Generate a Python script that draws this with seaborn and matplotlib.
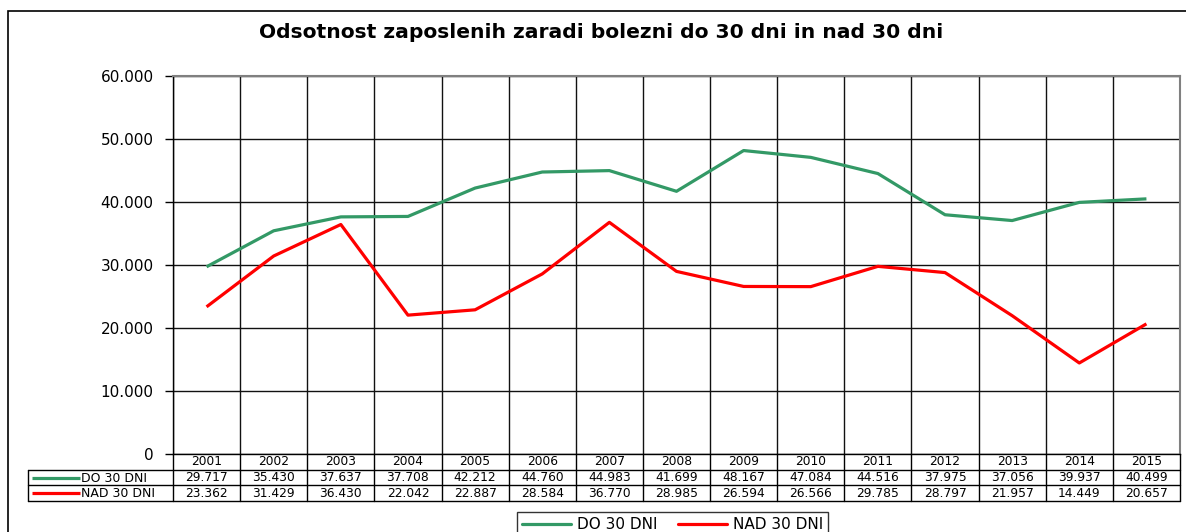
import matplotlib.pyplot as plt
import matplotlib.patches as mpatches
import seaborn as sns
import pandas as pd
import numpy as np

years = ['2001', '2002', '2003', '2004', '2005', '2006', '2007', '2008',
         '2009', '2010', '2011', '2012', '2013', '2014', '2015']
do_30 = [29717, 35430, 37637, 37708, 42212, 44760, 44983, 41699,
         48167, 47084, 44516, 37975, 37056, 39937, 40499]
nad_30 = [23362, 31429, 36430, 22042, 22887, 28584, 36770, 28985,
          26594, 26566, 29785, 28797, 21957, 14449, 20657]
series_names = ['DO 30 DNI', 'NAD 30 DNI']
series_colors = ['#339966', '#ff0000']
title = 'Odsotnost zaposlenih zaradi bolezni do 30 dni in nad 30 dni'

sns.set_theme(style='white')
plt.rcParams['font.family'] = ['DejaVu Sans']
plt.rcParams['text.color'] = 'black'
plt.rcParams['xtick.color'] = 'black'
plt.rcParams['ytick.color'] = 'black'
plt.rcParams['axes.labelcolor'] = 'black'

W, H = 1186, 532
fig = plt.figure(figsize=(W / 100, H / 100), dpi=100)

# long form table for seaborn
df = pd.DataFrame({
    'pos': list(range(len(years))) * 2,
    'value': do_30 + nad_30,
    'series': [series_names[0]] * len(years) + [series_names[1]] * len(years),
})

# main plot area (pixel geometry from the reference)
left, right, top, bottom = 173, 1180, 76, 454
ax = fig.add_axes([left / W, 1 - bottom / H, (right - left) / W, (bottom - top) / H])
sns.lineplot(data=df, x='pos', y='value', hue='series', hue_order=series_names,
             palette=series_colors, linewidth=2.3, ax=ax, legend=False,
             zorder=3, solid_capstyle='butt')

n = len(years)
ax.set_xlim(-0.5, n - 0.5)
ax.set_ylim(0, 60000)
ax.set_yticks(np.arange(0, 60001, 10000))
ax.set_yticklabels([f"{int(v):,}".replace(',', '.') for v in np.arange(0, 60001, 10000)],
                   fontsize=11)
ax.set_xticks(np.arange(-0.5, n, 1))
ax.set_xticklabels([])
ax.tick_params(axis='x', length=0)
ax.tick_params(axis='y', length=6, width=1, color='black', direction='out', pad=8, left=True)
ax.grid(True, color='#111111', linewidth=1)
ax.set_xlabel('')
ax.set_ylabel('')
for side in ['left', 'bottom']:
    ax.spines[side].set_color('black')
    ax.spines[side].set_linewidth(1)
for side in ['top', 'right']:
    ax.spines[side].set_color('#808080')
    ax.spines[side].set_linewidth(1.5)

fig.text(601 / W, 1 - 33 / H, title, ha='center', va='center',
         fontsize=14.6, fontweight='bold')

# data table below the plot
tab_bottom = 501
tax = fig.add_axes([left / W, 1 - tab_bottom / H, (right - left) / W, (tab_bottom - bottom) / H])
tax.set_xlim(-0.5, n - 0.5)
tax.set_ylim(3, 0)
tax.axis('off')
px = n / (right - left)  # data units per pixel
x_head = -0.5 - (left - 28) * px
for b in np.arange(-0.5, n, 1):
    tax.plot([b, b], [0, 3], color='black', lw=1, clip_on=False)
for r in [1, 2, 3]:
    tax.plot([x_head, n - 0.5], [r, r], color='black', lw=1, clip_on=False)
tax.plot([x_head, x_head], [1, 3], color='black', lw=1, clip_on=False)

for i, yr in enumerate(years):
    tax.text(i, 0.5, yr, ha='center', va='center', fontsize=8.8)
for row, vals in enumerate([do_30, nad_30], start=1):
    for i, v in enumerate(vals):
        tax.text(i, row + 0.5, f"{v:,}".replace(',', '.'), ha='center', va='center', fontsize=8.8)
    tax.plot([-0.5 - (left - 32) * px, -0.5 - (left - 80) * px], [row + 0.5, row + 0.5],
             color=series_colors[row - 1], lw=2.3, clip_on=False, solid_capstyle='butt')
    tax.text(-0.5 - (left - 81) * px, row + 0.55, series_names[row - 1],
             ha='left', va='center', fontsize=9)

# legend at the bottom
handles = [plt.Line2D([], [], color=c, lw=2.3) for c in series_colors]
leg = fig.legend(handles, series_names, loc='upper left', bbox_to_anchor=(517 / W, 1 - 512 / H),
                 ncol=2, fontsize=11, frameon=True, fancybox=False, handlelength=3.2,
                 handletextpad=0.35, columnspacing=1.4, borderpad=0.35, borderaxespad=0)
leg.get_frame().set_edgecolor('black')
leg.get_frame().set_linewidth(1)

# outer chart border
fig.patches.append(mpatches.Rectangle((8 / W, -0.1), 1.2, (H - 11) / H + 0.1,
                                      transform=fig.transFigure, fill=False,
                                      edgecolor='black', linewidth=1.2))

fig.savefig('out.png', dpi=100)
